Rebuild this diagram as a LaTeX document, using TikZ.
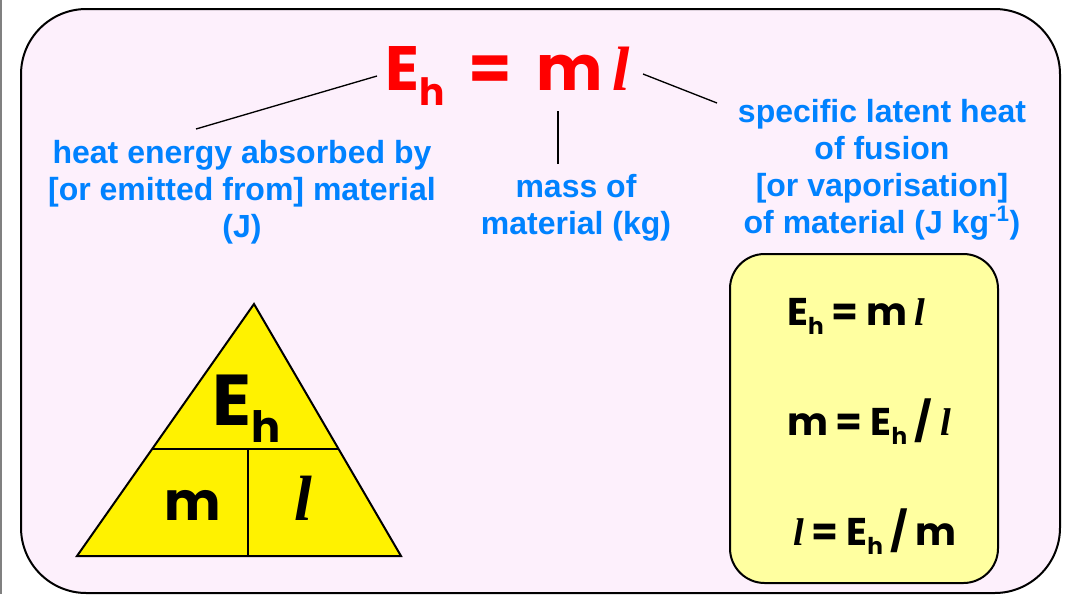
\documentclass[tikz,border=0pt]{standalone}
\usepackage{fontspec}
\setmainfont{Liberation Sans}
\newfontfamily\handfont{Poppins}
\newfontfamily\latfont{Liberation Serif}
\usepackage{graphicx}
\usetikzlibrary{calc,positioning}
\definecolor{sheetpink}{RGB}{253,240,252}
\definecolor{lblblue}{RGB}{0,130,255}
\definecolor{boxyellow}{RGB}{255,255,160}
\newcommand{\Eh}{E\raisebox{-0.24em}{\scalebox{0.6}{h}}}
\newcommand{\lat}{{\latfont\itshape l}}
\newcommand{\gap}{\hspace{0.2em}}
\tikzset{
  sheet/.style={draw=black,line width=1.5pt,fill=sheetpink,rounded corners=49pt},
  rulebox/.style={draw=black,line width=1.5pt,fill=boxyellow,rounded corners=26pt},
  trifill/.style={draw=black,line width=1.5pt,fill=yellow,line join=miter},
  trisplit/.style={draw=black,line width=1.5pt},
  lbl/.style={font=\bfseries\fontsize{24}{27.75}\selectfont,text=lblblue,
    align=center,inner sep=0pt},
  redeq/.style={font=\handfont\bfseries\fontsize{47}{60}\selectfont,text=red,
    inner sep=0pt,anchor=base},
  trieq/.style={font=\handfont\bfseries\fontsize{40}{50}\selectfont,
    inner sep=0pt,anchor=base},
  ruleeq/.style={font=\handfont\bfseries\fontsize{29}{36}\selectfont,
    inner sep=0pt,anchor=base west},
  pointer/.style={line width=1pt,black},
}

\begin{document}
\begin{tikzpicture}[x=0.75pt,y=-0.75pt]
  \useasboundingbox (0,0) rectangle (1067,594);
  \fill[white] (0,0) rectangle (1067,594);
  \fill[gray] (0,0) rectangle (2,594);
  % background sheet
  \draw[sheet] (21,9) rectangle (1060,593);
  % main relation
  \node[redeq] (eqn) at (508,90) {\Eh{} \,=\, m\,\lat};
  % the three meanings
  \node[lbl] (heat) at (242,192) {heat energy absorbed by\\{[or emitted from] material}\\(J)};
  \node[lbl] (mass) at (576,208) {mass of\\material (kg)};
  \node[lbl] (latent) at (882,170) {specific latent heat\\of fusion\\{[or vaporisation]}\\of material (J kg\textsuperscript{-1})};
  % pointers
  \coordinate (heatend) at (196,129); \coordinate (ehend) at (377,76);
  \coordinate (massend) at (558,164); \coordinate (mend) at (558,111);
  \coordinate (latend) at (717,103);  \coordinate (lend) at (643,74);
  \draw[pointer] (heatend) -- (ehend);
  \draw[pointer] (massend) -- (mend);
  \draw[pointer] (latend) -- (lend);
  % formula triangle
  \coordinate (apex) at (254,304);
  \coordinate (bl) at (77,556);
  \coordinate (br) at (401,556);
  \coordinate (sl) at ($(apex)!0.575!(bl)$);
  \coordinate (sr) at ($(apex)!0.575!(br)$);
  \coordinate (st) at (248,449); \coordinate (sb) at (248,556);
  \draw[trifill] (apex) -- (bl) -- (br) -- cycle;
  \draw[trisplit] (sl) -- (sr);
  \draw[trisplit] (st) -- (sb);
  \node[trieq,font=\handfont\bfseries\fontsize{54}{64}\selectfont] (tE) at (247,425) {\Eh};
  \node[trieq] (tm) at (193,520) {m};
  \node[trieq,font=\bfseries\fontsize{48}{56}\selectfont] (tl) at (303,520) {\lat};
  % rearranged forms
  \draw[rulebox] (730,254) rectangle (998,583);
  \node[ruleeq] (r1) at (787,325) {\Eh\gap=\gap m\gap\lat};
  \node[ruleeq] (r2) at (787,435) {m\gap=\gap\Eh\gap/\gap\lat};
  \node[ruleeq] (r3) at (793,545) {\lat\gap=\gap\Eh\gap/\gap m};
\end{tikzpicture}
\end{document}
